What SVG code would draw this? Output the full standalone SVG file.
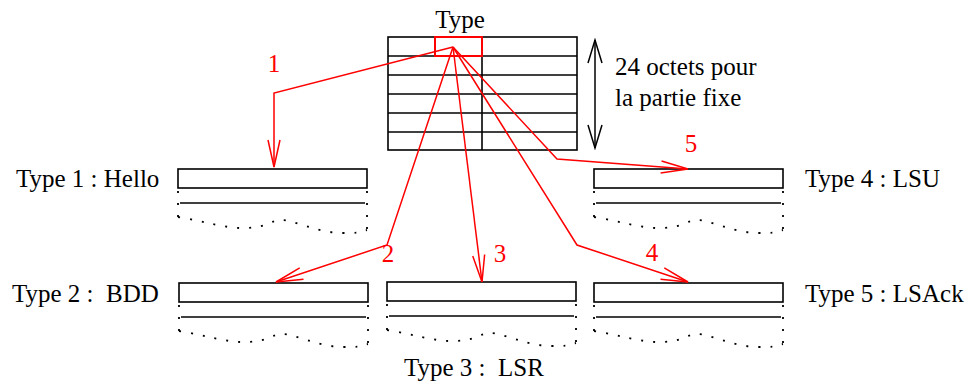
<svg xmlns="http://www.w3.org/2000/svg" xmlns:xlink="http://www.w3.org/1999/xlink" width="971" height="385" viewBox="0 0 971 385">
<style>
text{font-family:'Liberation Serif','DejaVu Serif',serif;font-size:25px;fill:#000;white-space:pre}
.red{fill:#ff0000}
.blk{stroke:#000;stroke-width:1.6;fill:none}
.dot{stroke:#000;stroke-width:1.8;fill:none;stroke-dasharray:2 10}
.con{stroke:#ff0000;stroke-width:1.5;fill:none}
</style>
<defs>
<marker id="ah" viewBox="-29 -8 31 16" refX="0" refY="0" markerWidth="31" markerHeight="16" markerUnits="userSpaceOnUse" orient="auto">
<path d="M-27,-6 L0,0 L-27,6" fill="none" stroke="#ff0000" stroke-width="1.5"/>
</marker>
<marker id="bh" viewBox="-26 -9 28 18" refX="0" refY="0" markerWidth="28" markerHeight="18" markerUnits="userSpaceOnUse" orient="auto-start-reverse">
<path d="M-23,-7 L0,0 L-23,7" fill="none" stroke="#000" stroke-width="1.5"/>
</marker>
<g id="panel">
<rect class="blk" x="0" y="0" width="189" height="19"/>
<line class="blk" x1="2" y1="34" x2="187" y2="34"/>
<line class="dot" x1="0" y1="22" x2="0" y2="51"/>
<line class="dot" x1="189" y1="22" x2="189" y2="63"/>
<path class="dot" d="M0,48 C25,52 48,60 69,59 S93,51 104,51 S140,64 165,64 S183,62 189,61"/>
</g>
</defs>
<g id="header">
<text x="460" y="28" text-anchor="middle">Type</text>
<rect class="blk" x="388" y="37" width="189" height="113"/>
<line class="blk" x1="388" y1="56" x2="577" y2="56"/>
<line class="blk" x1="388" y1="75" x2="577" y2="75"/>
<line class="blk" x1="388" y1="94" x2="577" y2="94"/>
<line class="blk" x1="388" y1="113" x2="577" y2="113"/>
<line class="blk" x1="388" y1="132" x2="577" y2="132"/>
<line class="blk" x1="482" y1="37" x2="482" y2="150"/>
<rect x="435" y="37" width="47" height="19" fill="none" stroke="#ff0000" stroke-width="2"/>
</g>
<g id="size">
<line x1="595" y1="40" x2="595" y2="148" stroke="#000" stroke-width="1.5" marker-start="url(#bh)" marker-end="url(#bh)"/>
<text x="615" y="75">24 octets pour</text>
<text x="615" y="106">la partie fixe</text>
</g>
<g id="type1"><use xlink:href="#panel" transform="translate(178,169)"/><text x="16" y="187">Type 1 : Hello</text></g>
<g id="type2"><use xlink:href="#panel" transform="translate(179,283)"/><text x="12" y="302">Type 2 :  BDD</text></g>
<g id="type3"><use xlink:href="#panel" transform="translate(387,282)"/><text x="404" y="376">Type 3 :  LSR</text></g>
<g id="type4"><use xlink:href="#panel" transform="translate(594,169)"/><text x="805" y="187">Type 4 : LSU</text></g>
<g id="type5"><use xlink:href="#panel" transform="translate(594,283)"/><text x="805" y="302">Type 5 : LSAck</text></g>
<g id="connectors">
<polyline class="con" points="453,47 274,93 274,167" marker-end="url(#ah)"/>
<polyline class="con" points="453,47 387,245 276,282" marker-end="url(#ah)"/>
<polyline class="con" points="453,47 482,282" marker-end="url(#ah)"/>
<polyline class="con" points="453,47 577,245 688,282" marker-end="url(#ah)"/>
<polyline class="con" points="453,47 557,159 688,169" marker-end="url(#ah)"/>
<text class="red" x="274" y="72" text-anchor="middle">1</text>
<text class="red" x="388" y="262" text-anchor="middle">2</text>
<text class="red" x="500" y="262" text-anchor="middle">3</text>
<text class="red" x="652" y="261" text-anchor="middle">4</text>
<text class="red" x="691" y="152" text-anchor="middle">5</text>
</g>
</svg>
